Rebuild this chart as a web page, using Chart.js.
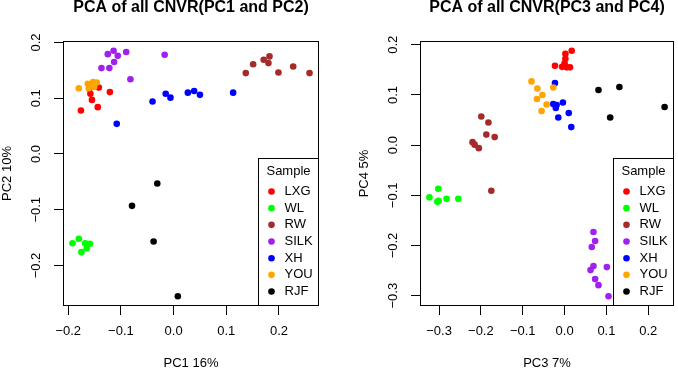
<!DOCTYPE html>
<html>
<head>
<meta charset="utf-8">
<title>PCA of all CNVR</title>
<script src="https://cdn.jsdelivr.net/npm/chart.js@4.4.1/dist/chart.umd.min.js"></script>
<style>
  html, body { margin: 0; padding: 0; background: #fff; }
  #wrap { position: relative; width: 678px; height: 370px; overflow: hidden; }
  canvas { position: absolute; top: 0; }
  #pc12 { left: 0; }
  #pc34 { left: 357px; }
</style>
</head>
<body>
<div id="wrap">
  <canvas id="pc12" width="339" height="370"></canvas>
  <canvas id="pc34" width="321" height="370"></canvas>
</div>
<script>
(() => {
  const samples = ["LXG", "WL", "RW", "SILK", "XH", "YOU", "RJF"];
  const sampleColors = ["#ff0000", "#00ff00", "#a52a2a", "#a020f0", "#0000ff", "#ffa500", "#000000"];

  // PC1 / PC2 scores, [x, y]
  const lxgPC12 = [[-0.142, 0.119], [-0.158, 0.108], [-0.121, 0.111], [-0.155, 0.097], [-0.176, 0.078], [-0.144, 0.084], [-0.160, 0.117], [-0.150, 0.124]];
  const wlPC12 = [[-0.192, -0.160], [-0.180, -0.152], [-0.168, -0.160], [-0.159, -0.161], [-0.165, -0.169], [-0.175, -0.176]];
  const rwPC12 = [[0.137, 0.145], [0.151, 0.161], [0.171, 0.169], [0.182, 0.175], [0.180, 0.163], [0.199, 0.146], [0.227, 0.157], [0.258, 0.145]];
  const silkPC12 = [[-0.125, 0.179], [-0.114, 0.185], [-0.106, 0.176], [-0.090, 0.183], [-0.113, 0.165], [-0.137, 0.154], [-0.122, 0.154], [-0.082, 0.134], [-0.017, 0.178]];
  const xhPC12 = [[-0.108, 0.054], [-0.040, 0.094], [-0.015, 0.108], [-0.006, 0.101], [0.027, 0.110], [0.039, 0.113], [0.050, 0.106], [0.113, 0.110]];
  const youPC12 = [[-0.180, 0.118], [-0.163, 0.126], [-0.153, 0.129], [-0.146, 0.128], [-0.161, 0.118], [-0.151, 0.120], [-0.157, 0.123]];
  const rjfPC12 = [[-0.031, -0.053], [-0.079, -0.093], [-0.038, -0.157], [0.008, -0.255]];

  // PC3 / PC4 scores, [x, y]
  const lxgPC34 = [[0.017, 0.188], [0.002, 0.182], [0.002, 0.172], [-0.023, 0.158], [-0.006, 0.156], [0.005, 0.155], [0.013, 0.155], [0.000, 0.163]];
  const wlPC34 = [[-0.323, -0.104], [-0.302, -0.087], [-0.301, -0.111], [-0.304, -0.113], [-0.282, -0.107], [-0.254, -0.107]];
  const rwPC34 = [[-0.199, 0.057], [-0.182, 0.045], [-0.187, 0.021], [-0.167, 0.016], [-0.220, 0.006], [-0.215, 0.001], [-0.205, -0.006], [-0.175, -0.091]];
  const silkPC34 = [[0.069, -0.173], [0.073, -0.191], [0.065, -0.203], [0.069, -0.241], [0.062, -0.249], [0.101, -0.243], [0.073, -0.267], [0.081, -0.279], [0.105, -0.301]];
  const xhPC34 = [[-0.023, 0.124], [-0.027, 0.082], [-0.019, 0.080], [-0.021, 0.074], [-0.004, 0.085], [0.010, 0.064], [-0.015, 0.055], [0.016, 0.036]];
  const youPC34 = [[-0.079, 0.127], [-0.065, 0.113], [-0.053, 0.100], [-0.066, 0.092], [-0.043, 0.081], [-0.055, 0.068], [-0.027, 0.115]];
  const rjfPC34 = [[0.081, 0.110], [0.131, 0.116], [0.109, 0.055], [0.239, 0.076]];

  const pc1Ticks = [-0.2, -0.1, 0, 0.1, 0.2];
  const pc2Ticks = [-0.2, -0.1, 0, 0.1, 0.2];
  const pc3Ticks = [-0.3, -0.2, -0.1, 0, 0.1, 0.2];
  const pc4Ticks = [-0.3, -0.2, -0.1, 0, 0.1, 0.2];

  Chart.defaults.font.family = "'Liberation Sans', Arial, sans-serif";
  Chart.defaults.font.size = 13;
  Chart.defaults.color = "#000";

  // R prints axis numbers with a real minus sign
  const fmt = v => (v < 0 ? "\u2212" : "") + Math.abs(v).toFixed(1);

  // box round the plot region, like R's box()
  const plotBox = {
    id: "plotBox",
    afterDatasetsDraw(chart) {
      const { ctx, chartArea: a } = chart;
      ctx.save();
      ctx.strokeStyle = "#000";
      ctx.lineWidth = 1;
      ctx.strokeRect(Math.round(a.left) + 0.5, Math.round(a.top) + 0.5,
        Math.round(a.right - a.left) - 1, Math.round(a.bottom - a.top) - 1);
      ctx.restore();
    }
  };

  // legend box in the bottom right corner
  const sampleLegend = {
    id: "sampleLegend",
    afterDraw(chart, args, opts) {
      const { ctx, chartArea: a } = chart;
      const right = Math.round(a.right) - 0.5;
      const bottom = Math.round(a.bottom) - 0.5;
      const left = right - opts.width;
      const top = bottom - opts.height;
      ctx.save();
      ctx.fillStyle = "#fff";
      ctx.fillRect(left, top, opts.width, opts.height);
      ctx.strokeStyle = "#000";
      ctx.lineWidth = 1;
      ctx.strokeRect(left, top, opts.width, opts.height);
      ctx.font = "13px 'Liberation Sans', Arial, sans-serif";
      ctx.fillStyle = "#000";
      ctx.textBaseline = "middle";
      ctx.textAlign = "center";
      ctx.fillText("Sample", left + opts.width / 2, top + 13);
      ctx.textAlign = "left";
      chart.data.datasets.forEach((ds, i) => {
        const y = top + 33 + i * 16.67;
        ctx.fillStyle = ds.backgroundColor;
        ctx.beginPath();
        ctx.arc(left + 13, y, 3.3, 0, Math.PI * 2);
        ctx.fill();
        ctx.fillStyle = "#000";
        ctx.fillText(ds.label, left + 26, y);
      });
      ctx.restore();
    }
  };

  // R style range: data range plus 4% each side
  function rRange(groups, k) {
    const vals = groups.flat().map(p => p[k]);
    const lo = Math.min(...vals), hi = Math.max(...vals);
    const pad = (hi - lo) * 0.04;
    return [lo - pad, hi + pad];
  }

  function axis(title, ticks, range, isX) {
    return {
      type: "linear",
      bounds: "data",
      min: range[0],
      max: range[1],
      grid: { drawOnChartArea: false, drawTicks: true, tickLength: 9, color: "#000" },
      border: { display: false },
      afterBuildTicks: (s) => { s.ticks = ticks.map(v => ({ value: v })); },
      afterFit: (s) => { if (isX) s.height = 64; else s.width = 63; },
      ticks: isX
        ? { padding: 8.5, maxRotation: 0, autoSkip: false, callback: fmt }
        : { padding: 5, minRotation: 90, crossAlign: "center", autoSkip: false, callback: fmt },
      title: {
        display: true,
        text: title,
        font: { size: 13, lineHeight: 1 },
        padding: isX ? { top: 0, bottom: 0 } : { top: 1.2, bottom: 0 }
      }
    };
  }

  function makePanel(id, title, groups, xTitle, yTitle, xTicks, yTicks, padRight) {
    new Chart(document.getElementById(id), {
      type: "scatter",
      data: {
        datasets: groups.map((pts, i) => ({
          label: samples[i],
          data: pts.map(p => ({ x: p[0], y: p[1] })),
          backgroundColor: sampleColors[i],
          pointBackgroundColor: sampleColors[i],
          pointRadius: 3.3,
          pointBorderWidth: 0,
          order: samples.length - i
        }))
      },
      options: {
        responsive: false,
        animation: false,
        layout: { padding: { left: 0, right: padRight, top: 0, bottom: 0 } },
        plugins: {
          legend: { display: false },
          tooltip: { enabled: false },
          title: {
            display: true,
            text: title,
            fullSize: false,
            color: "#000",
            font: { size: 16, weight: "bold", lineHeight: 1 },
            padding: { top: 0, bottom: 25 }
          },
          sampleLegend: { width: 60, height: 147 }
        },
        scales: {
          x: axis(xTitle, xTicks, rRange(groups, 0), true),
          y: axis(yTitle, yTicks, rRange(groups, 1), false)
        }
      },
      plugins: [plotBox, sampleLegend]
    });
  }

  makePanel("pc12", "PCA of all CNVR(PC1 and PC2)",
    [lxgPC12, wlPC12, rwPC12, silkPC12, xhPC12, youPC12, rjfPC12],
    "PC1 16%", "PC2 10%", pc1Ticks, pc2Ticks, 20);

  makePanel("pc34", "PCA of all CNVR(PC3 and PC4)",
    [lxgPC34, wlPC34, rwPC34, silkPC34, xhPC34, youPC34, rjfPC34],
    "PC3 7%", "PC4 5%", pc3Ticks, pc4Ticks, 2);
})();
</script>
</body>
</html>
